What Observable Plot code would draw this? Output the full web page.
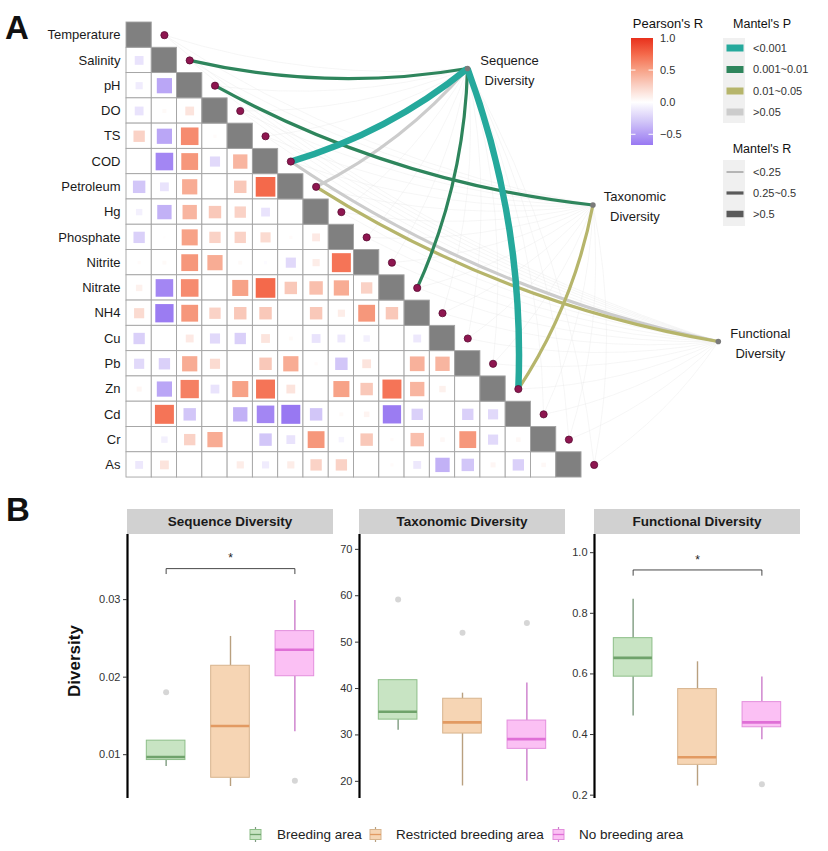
<!DOCTYPE html>
<html><head><meta charset="utf-8">
<script src="https://cdn.jsdelivr.net/npm/d3@7"></script>
<script src="https://cdn.jsdelivr.net/npm/@observablehq/plot@0.6"></script>
<style>
body{margin:0;background:#fff;font-family:"Liberation Sans",Arial,sans-serif;}
#root{position:relative;width:828px;height:851px;overflow:hidden;background:#fff;}
#root > *{position:absolute;}
.strip{background:#d1d1d1;font-weight:bold;font-size:13.5px;color:#1a1a1a;text-align:center;line-height:25px;height:25px;width:206px;}
</style></head><body><div id="root"></div>
<script>
// ---------------- DATA ----------------
const vars = ["Temperature","Salinity","pH","DO","TS","COD","Petroleum","Hg","Phosphate","Nitrite","Nitrate","NH4","Cu","Pb","Zn","Cd","Cr","As"];
// lower-triangle Pearson's r, row i lists columns 0..i-1
const corrRows = [
  [],
  [-0.15],
  [-0.10,-0.45],
  [-0.15,0.03,0.15],
  [0.25,-0.45,0.60,0.02],
  [0,-0.60,0.55,-0.20,0.40],
  [-0.30,-0.15,0.45,0,0.30,0.75],
  [-0.08,-0.40,0.40,0.30,0.25,-0.15,0],
  [-0.25,0.01,0.50,0.25,0.25,0.20,0.02,0.12],
  [0.02,0.03,0.55,0.45,0.03,-0.02,-0.20,0.10,0.70],
  [0.08,-0.60,0.60,0,0.50,0.75,0.30,0.35,0.45,0.25],
  [0.20,-0.65,0.55,0.25,0.30,0.30,0,0.30,0.10,0.55,0.30],
  [-0.25,0,0.12,-0.20,-0.25,0.15,0.03,-0.15,-0.12,-0.08,0,-0.12],
  [-0.20,-0.25,0.45,0.20,0,0.30,0.45,0.02,-0.30,0.15,0,0.42,0.40],
  [0.05,-0.45,0.65,-0.15,0.50,0.70,0.15,0,0.50,0.30,0.70,0.40,0.08,0],
  [0,0.70,-0.30,0,-0.40,-0.60,-0.70,-0.30,0.03,0.06,-0.65,-0.25,0,-0.25,-0.20],
  [0,-0.08,0.25,0.45,0,-0.30,-0.15,0.55,-0.06,0.30,0.02,0.35,0.04,0.55,-0.20,0.04],
  [-0.12,0.15,0,0,0.10,-0.10,0.10,0.25,0.25,0,0.02,-0.12,-0.40,-0.30,0.05,-0.25,0.04]
];
const specNames = ["Sequence","Taxonomic","Functional"];
const mantelSpec = ["Sequence","Sequence","Sequence","Sequence","Sequence","Taxonomic","Taxonomic","Functional","Functional"];
const mantelEnv  = ["Salinity","COD","Petroleum","Nitrate","Zn","pH","Zn","COD","Petroleum"];
const mantelP    = ["0.001~0.01","<0.001",">0.05","0.001~0.01","<0.001","0.001~0.01","0.01~0.05",">0.05","0.01~0.05"];
const mantelR    = ["0.25~0.5",">0.5","0.25~0.5","0.25~0.5",">0.5","0.25~0.5","0.25~0.5","0.25~0.5","0.25~0.5"];
const pLevels = ["<0.001","0.001~0.01","0.01~0.05",">0.05"];
const rLevels = ["<0.25","0.25~0.5",">0.5"];
const pearsonTicks = [1.0, 0.5, 0.0, -0.5];

const groups = ["Breeding area","Restricted breeding area","No breeding area"];
const seqQ1 = [0.00931,0.00702,0.02012], seqMed = [0.00970,0.01371,0.02353], seqQ3 = [0.01181,0.02147,0.02594];
const seqLow = [0.00848,0.00590,0.01297], seqHigh = [0.01181,0.02525,0.02990];
const seqOutGroup = [0,2], seqOutVal = [0.01805,0.00663];
const taxQ1 = [33.3,30.3,27.0], taxMed = [35.0,32.7,29.1], taxQ3 = [41.8,37.8,33.1];
const taxLow = [31.0,19.0,20.0], taxHigh = [41.8,39.0,41.2];
const taxOutGroup = [0,1,2], taxOutVal = [59.2,52.0,54.1];
const funQ1 = [0.591,0.300,0.424], funMed = [0.653,0.325,0.440], funQ3 = [0.718,0.550,0.507];
const funLow = [0.461,0.230,0.383], funHigh = [0.846,0.640,0.590];
const funOutGroup = [2], funOutVal = [0.236];
const seqTicks = [0.01,0.02,0.03], taxTicks = [20,30,40,50,60,70], funTicks = [0.2,0.4,0.6,0.8,1.0];
const seqSig = {from:0, to:2, y:0.0340, label:"*"};
const funSig = {from:0, to:2, y:0.943, label:"*"};

// ---------------- STYLES / LAYOUT ----------------
const FONT = "Liberation Sans, Arial, sans-serif";
const pColors = ["#25A99C","#2E855C","#B6B56B","#CCCCCC"];
const rWidths = [0.8,3.2,6.5];
const colorDomain = [-0.667,-0.3,0,0.25,0.5,0.75,1];
const colorRange = ["#9878F2","#D2C6F8","#FFFFFF","#FAD2C6","#F7A287","#F4694B","#E8301C"];
const boxFill = ["#C8E4C3","#F6D5B4","#FBC0F4"];
const boxStroke = ["#8DBE88","#D7B48E","#E38FDD"];
const medianColor = ["#6FA26B","#E29A62","#DF6FD6"];
const whiskerColor = ["#7F9C80","#B9A07F","#CC7DCB"];
const root = document.getElementById("root");

function bowCurve(k){
  return function(context){
    let pts = [];
    return {
      areaStart(){}, areaEnd(){},
      lineStart(){ pts = []; },
      point(x,y){ pts.push([+x,+y]); },
      lineEnd(){
        if (pts.length < 2) return;
        const [x0,y0] = pts[0], [x1,y1] = pts[pts.length-1];
        const dx = x1-x0, dy = y1-y0;
        context.moveTo(x0,y0);
        context.quadraticCurveTo((x0+x1)/2 + k*dy, (y0+y1)/2 - k*dx, x1, y1);
      }
    };
  };
}

// ---------------- PANEL A ----------------
const N = vars.length, CELL = 25.28;
const cells = [];
vars.forEach((v,i)=>{ for(let j=0;j<i;j++) cells.push({i,j,r:corrRows[i][j]}); });
const diag = vars.map((v,i)=>({i}));
// spec node layout (cell units), evenly spaced along a diagonal line
const nodeStart = [13.49,1.82], nodeStep = [4.96,5.40];
const nodes = specNames.map((s,k)=>({name:s, x:nodeStart[0]+nodeStep[0]*k, y:nodeStart[1]+nodeStep[1]*k}));
const allLinks = [];
nodes.forEach(n=>vars.forEach((v,i)=>allLinks.push({n,i})));
const links = mantelSpec.map((s,k)=>({n:nodes[specNames.indexOf(s)], i:vars.indexOf(mantelEnv[k]), p:mantelP[k], r:mantelR[k]}));
const curve = bowCurve(0.1);
const linkOpts = {x1:d=>d.n.x, y1:d=>d.n.y, x2:d=>d.i+1.5, y2:d=>d.i+0.5, curve};

const plotA = Plot.plot({
  width: 828, height: 490,
  x: {domain:[0,N], range:[126,126+N*CELL], axis:null},
  y: {domain:[0,N], range:[22,22+N*CELL], axis:null},
  color: {type:"linear", domain:colorDomain, range:colorRange, clamp:true},
  r: {type:"sqrt", domain:[0,1], range:[0,12.8]},
  style: {fontFamily:FONT, background:"transparent", overflow:"visible"},
  marks: [
    Plot.rect(cells, {x1:d=>d.j, x2:d=>d.j+1, y1:d=>d.i, y2:d=>d.i+1, fill:"white", stroke:"#a3a3a3", strokeWidth:0.9}),
    Plot.rect(diag, {x1:d=>d.i, x2:d=>d.i+1, y1:d=>d.i, y2:d=>d.i+1, fill:"#808080", stroke:"#a3a3a3", strokeWidth:0.9}),
    Plot.dot(cells.filter(d=>d.r!==0), {x:d=>d.j+0.5, y:d=>d.i+0.5, symbol:"square", r:d=>Math.abs(d.r), fill:d=>d.r}),
    Plot.link(allLinks, {...linkOpts, stroke:"#e6e6e6", strokeWidth:0.5, strokeOpacity:0.75}),
    ...pLevels.slice().reverse().map(lvl => Plot.link(links.filter(l=>l.p===lvl), {
      ...linkOpts, stroke:pColors[pLevels.indexOf(lvl)], strokeWidth:d=>rWidths[rLevels.indexOf(d.r)]
    })),
    Plot.text(vars, {x:0, y:(d,i)=>i+0.5, text:d=>d, textAnchor:"end", dx:-6, fontSize:13, fill:"#1a1a1a"}),
    Plot.dot(vars, {x:(d,i)=>i+1.5, y:(d,i)=>i+0.5, r:3.6, fill:"#8E1650", stroke:"#5b0d33", strokeWidth:0.8}),
    Plot.dot(nodes, {x:"x", y:"y", r:2.8, fill:"#7a7a7a"}),
    Plot.text(nodes, {x:"x", y:"y", text:d=>d.name+"\nDiversity", dx:42, textAnchor:"middle", lineAnchor:"middle", lineHeight:1.52, fontSize:13, fill:"#1a1a1a"})
  ]
});
plotA.style.left = "0px"; plotA.style.top = "0px";
root.appendChild(plotA);

// ---------------- PANEL B ----------------
function boxPanel(cfg){
  const d = groups.map((g,k)=>({k, q1:cfg.q1[k], med:cfg.med[k], q3:cfg.q3[k], low:cfg.low[k], high:cfg.high[k]}));
  const outs = cfg.outG.map((g,m)=>({g, v:cfg.outV[m]}));
  const marks = [
    Plot.ruleX([0.4], {stroke:"#000", strokeWidth:2.2}),
    Plot.axisY({ticks:cfg.ticks, tickFormat:cfg.fmt, tickSize:4, tickPadding:3, fontSize:11}),
    Plot.ruleX(d, {x:d=>d.k+1, y1:"low", y2:"q1", stroke:d=>whiskerColor[d.k], strokeWidth:1.4}),
    Plot.ruleX(d, {x:d=>d.k+1, y1:"q3", y2:"high", stroke:d=>whiskerColor[d.k], strokeWidth:1.4}),
    Plot.rect(d, {x1:d=>d.k+0.7, x2:d=>d.k+1.3, y1:"q1", y2:"q3", fill:d=>boxFill[d.k], stroke:d=>boxStroke[d.k], strokeWidth:1}),
    Plot.ruleY(d, {x1:d=>d.k+0.7, x2:d=>d.k+1.3, y:"med", stroke:d=>medianColor[d.k], strokeWidth:2.6}),
    Plot.dot(outs, {x:d=>d.g+1, y:"v", r:3, fill:"#d6d6d6"})
  ];
  if (cfg.sig) {
    const s = cfg.sig, drop = cfg.drop;
    const br = [{x:s.from+1,y:s.y-drop},{x:s.from+1,y:s.y},{x:s.to+1,y:s.y},{x:s.to+1,y:s.y-drop}];
    marks.push(Plot.line(br, {x:"x", y:"y", stroke:"#333", strokeWidth:0.9}));
    marks.push(Plot.text([s], {x:d=>(d.from+d.to)/2+1, y:"y", text:"label", dy:-10, fontSize:12, fill:"#222"}));
  }
  const p = Plot.plot({
    width:246, height:264, marginLeft:40, marginRight:0, marginTop:0, marginBottom:0,
    x:{domain:[0.4,3.6], axis:null},
    y:{domain:cfg.domain, axis:null},
    color:{type:"identity"},
    style:{fontFamily:FONT, background:"transparent", overflow:"visible", color:"#333"},
    marks
  });
  p.style.left = (cfg.left-40)+"px"; p.style.top = "534px";
  root.appendChild(p);
  const st = document.createElement("div");
  st.className = "strip"; st.textContent = cfg.title;
  st.style.left = cfg.left+"px"; st.style.top = "509px";
  root.appendChild(st);
}
boxPanel({title:"Sequence Diversity", left:127, q1:seqQ1, med:seqMed, q3:seqQ3, low:seqLow, high:seqHigh,
  outG:seqOutGroup, outV:seqOutVal, domain:[0.00435,0.0384], ticks:seqTicks, fmt:d3.format(".2f"), sig:seqSig, drop:0.00065});
boxPanel({title:"Taxonomic Diversity", left:359, q1:taxQ1, med:taxMed, q3:taxQ3, low:taxLow, high:taxHigh,
  outG:taxOutGroup, outV:taxOutVal, domain:[16.3,73.2], ticks:taxTicks, fmt:d3.format("d")});
boxPanel({title:"Functional Diversity", left:594, q1:funQ1, med:funMed, q3:funQ3, low:funLow, high:funHigh,
  outG:funOutGroup, outV:funOutVal, domain:[0.189,1.06], ticks:funTicks, fmt:d3.format(".1f"), sig:funSig, drop:0.0175});

// ---------------- OVERLAY: legends, panel letters, axis title ----------------
const svg = d3.create("svg").attr("width",828).attr("height",851)
  .style("left","0px").style("top","0px").style("pointer-events","none")
  .style("font-family",FONT);
svg.append("text").attr("x",5).attr("y",39).attr("font-size",33).attr("font-weight","bold").attr("fill","#111").text("A");
svg.append("text").attr("x",6).attr("y",521).attr("font-size",33).attr("font-weight","bold").attr("fill","#111").text("B");
svg.append("text").attr("transform","translate(80,661) rotate(-90)").attr("text-anchor","middle")
  .attr("font-size",17).attr("font-weight","bold").attr("fill","#111").text("Diversity");

// Pearson colour bar
const cbar = d3.scaleLinear().domain(colorDomain).range(colorRange).clamp(true);
const cbY = d3.scaleLinear().domain([1,-0.667]).range([38,145]);
const grad = svg.append("defs").append("linearGradient").attr("id","pg").attr("x1",0).attr("x2",0).attr("y1",0).attr("y2",1);
d3.range(0,1.0001,0.025).forEach(t=>{
  const v = 1 - t*(1+0.667);
  grad.append("stop").attr("offset",t).attr("stop-color",cbar(v));
});
svg.append("text").attr("x",668).attr("y",28).attr("text-anchor","middle").attr("font-size",13).attr("fill","#111").text("Pearson's R");
svg.append("rect").attr("x",631).attr("y",38).attr("width",22).attr("height",107).attr("fill","url(#pg)");
pearsonTicks.forEach(v=>{
  const y = cbY(v);
  if (v < 1) {
    svg.append("line").attr("x1",631).attr("x2",635.5).attr("y1",y).attr("y2",y).attr("stroke","#fff").attr("stroke-width",1);
    svg.append("line").attr("x1",648.5).attr("x2",653).attr("y1",y).attr("y2",y).attr("stroke","#fff").attr("stroke-width",1);
  }
  svg.append("text").attr("x",660).attr("y",y).attr("dy","0.35em").attr("font-size",11).attr("fill","#333")
    .text(d3.format(".1f")(v).replace("-","\u2212"));
});
// Mantel's P legend
svg.append("text").attr("x",762).attr("y",28).attr("text-anchor","middle").attr("font-size",12.5).attr("fill","#111").text("Mantel's P");
svg.append("rect").attr("x",723).attr("y",38).attr("width",22).attr("height",85).attr("fill","#f0f0f0");
const pY = [48,69.5,91,112];
pLevels.forEach((l,k)=>{
  svg.append("rect").attr("x",726.5).attr("y",pY[k]-3.5).attr("width",17).attr("height",7).attr("fill",pColors[k]);
  svg.append("text").attr("x",753).attr("y",pY[k]).attr("dy","0.35em").attr("font-size",11).attr("fill","#333").text(l);
});
// Mantel's R legend
svg.append("text").attr("x",762).attr("y",153).attr("text-anchor","middle").attr("font-size",12.5).attr("fill","#111").text("Mantel's R");
svg.append("rect").attr("x",723).attr("y",160).attr("width",22).attr("height",66).attr("fill","#f0f0f0");
const rY = [172,193,214];
rLevels.forEach((l,k)=>{
  svg.append("line").attr("x1",726.5).attr("x2",743.5).attr("y1",rY[k]).attr("y2",rY[k]).attr("stroke","#5a5a5a").attr("stroke-width",rWidths[k]);
  svg.append("text").attr("x",753).attr("y",rY[k]).attr("dy","0.35em").attr("font-size",11).attr("fill","#333").text(l);
});
// bottom legend
const legIconX = [250,370,553], legTextX = [277,396,579];
groups.forEach((g,k)=>{
  const cx = legIconX[k]+5.5;
  svg.append("line").attr("x1",cx).attr("x2",cx).attr("y1",827).attr("y2",842).attr("stroke",whiskerColor[k]).attr("stroke-width",1.2);
  svg.append("rect").attr("x",legIconX[k]).attr("y",829.5).attr("width",11).attr("height",10).attr("fill",boxFill[k]).attr("stroke",boxStroke[k]).attr("stroke-width",1);
  svg.append("line").attr("x1",legIconX[k]).attr("x2",legIconX[k]+11).attr("y1",834.5).attr("y2",834.5).attr("stroke",medianColor[k]).attr("stroke-width",1.3);
  svg.append("text").attr("x",legTextX[k]).attr("y",834).attr("dy","0.35em").attr("font-size",13.5).attr("fill","#222").text(g);
});
root.appendChild(svg.node());
</script></body></html>
